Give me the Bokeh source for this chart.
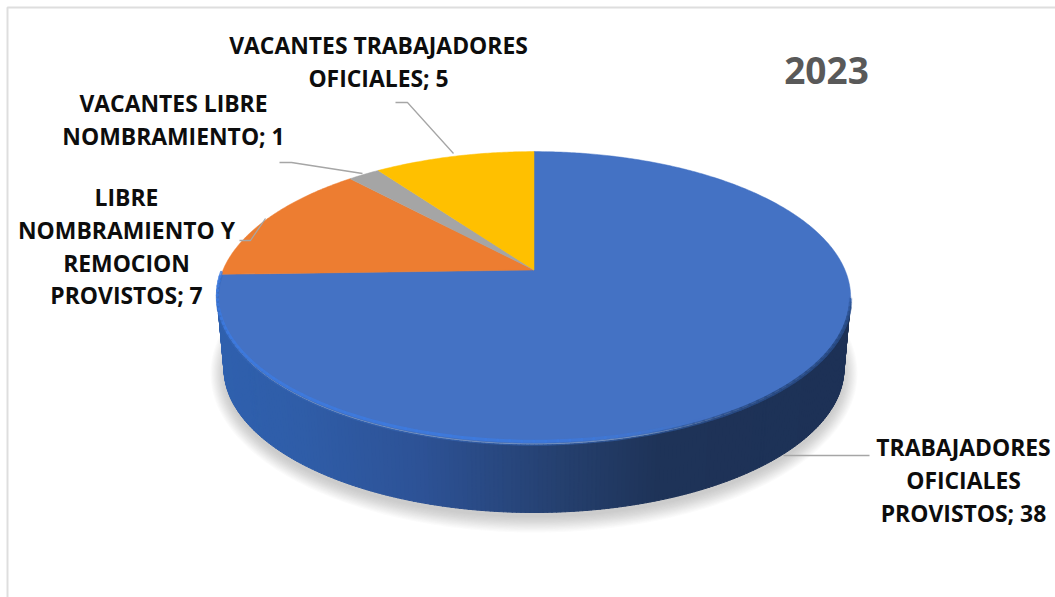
import numpy as np
from bokeh.plotting import figure
from bokeh.embed import file_html
from bokeh.resources import INLINE
from bokeh.core.properties import value
from bokeh.models import Range1d

# ---- data ----
categories = ["TRABAJADORES OFICIALES PROVISTOS", "LIBRE NOMBRAMIENTO Y REMOCION PROVISTOS",
              "VACANTES LIBRE NOMBRAMIENTO", "VACANTES TRABAJADORES OFICIALES"]
values = [38, 7, 1, 5]
colors = ["#4472c4", "#ed7d31", "#a5a5a5", "#ffc000"]
title = "2023"
label_lines = [
    ["TRABAJADORES", "OFICIALES", "PROVISTOS; 38"],
    ["LIBRE", "NOMBRAMIENTO Y", "REMOCION", "PROVISTOS; 7"],
    ["VACANTES LIBRE", "NOMBRAMIENTO; 1"],
    ["VACANTES TRABAJADORES", "OFICIALES; 5"],
]
label_xy = [(963, 447), (126, 197), (173, 103), (378, 45)]
leaders = [
    ([783, 869], [455, 455]),
    ([239, 250, 265], [240, 240, 218]),
    ([279, 291, 362], [162, 162, 173]),
    ([395, 407, 453], [102, 102, 153]),
]

# ---- geometry: page pixels ----
W, H = 1055, 597
APX, APY = 533.5, 269.5
K, A, C = 311.0, -90.0, 0.188
TCY, TRX, TRY = 298.0, 316.5, 146.5     # top-face ellipse
BCY, BRX, BRY = 368.0, 310.0, 144.0     # bottom ellipse
FONT = "Open Sans"


def project(u, v):
    d = 1 + C * v
    return APX + K * u / d, (A * v + APY) / d


def mix(c1, c2, t):
    a = np.array([int(c1[i:i + 2], 16) for i in (1, 3, 5)], float)
    b = np.array([int(c2[i:i + 2], 16) for i in (1, 3, 5)], float)
    r = a + (b - a) * t
    return "#%02x%02x%02x" % tuple(int(round(x)) for x in r)


p = figure(width=W, height=H, output_backend="svg", toolbar_location=None,
           x_range=Range1d(0, W), y_range=Range1d(H, 0),
           min_border=0, outline_line_color=None)
p.axis.visible = False
p.grid.visible = False
p.background_fill_color = "white"
p.border_fill_color = "white"

# frame
p.line([7, 7, 1055], [597, 7, 7], line_color="#dedede", line_width=2)

# soft shadow under the disc
t = np.linspace(0, 2 * np.pi, 200)
for i in range(14):
    g = 15 - i * 1.2
    p.patch(533.5 + (BRX + g * 0.9) * np.cos(t), BCY + 5 + (BRY + g) * np.sin(t),
            fill_color="#707070", fill_alpha=0.028, line_color=None)

# side wall, lower half of ellipse, in strips shaded from left to right
stops_x = [216, 300, 420, 560, 660, 850]
stops_c = ["#2f60ae", "#2f5da8", "#2d5296", "#25406f", "#1e3358", "#1d3156"]
n = 220
ts = np.linspace(np.pi, 0, n + 1)
for i in range(n):
    a, b = ts[i], ts[i + 1] - 0.002
    xs = [533.5 + TRX * np.cos(a), 533.5 + TRX * np.cos(b), 533.5 + BRX * np.cos(b), 533.5 + BRX * np.cos(a)]
    ys = [TCY + TRY * np.sin(a), TCY + TRY * np.sin(b), BCY + BRY * np.sin(b), BCY + BRY * np.sin(a)]
    xm = (xs[0] + xs[1]) / 2
    j = min(np.searchsorted(stops_x, xm), len(stops_x) - 1)
    j = max(j, 1)
    f = (xm - stops_x[j - 1]) / (stops_x[j] - stops_x[j - 1])
    col = mix(stops_c[j - 1], stops_c[j], f)
    p.patch(xs, ys, fill_color=col, line_color=col, line_width=1)

# slices, clockwise from twelve o'clock
fr = np.cumsum([0] + values) / sum(values) * 2 * np.pi
for i in range(len(values)):
    ang = np.linspace(fr[i], fr[i + 1], max(int(values[i] * 12), 12))
    x, y = project(np.sin(ang), np.cos(ang))
    ax, ay = project(0.0, 0.0)
    p.patch(np.r_[ax, x], np.r_[ay, y], fill_color=colors[i], line_color=colors[i], line_width=0.5)

# bevel along the front rim of the large slice: soft edge, highlight at left, shade at right
ang = np.linspace(fr[0], fr[1], 150)
x, y = project(np.sin(ang), np.cos(ang))
for i in range(len(ang) - 1):
    xm = (x[i] + x[i + 1]) / 2
    ym = (y[i] + y[i + 1]) / 2
    if ym <= 262 or (xm > APX and ym <= 295):
        continue
    # blurred boundary with the side wall
    p.line([x[i], x[i + 1]], [y[i] + 1, y[i + 1] + 1], line_color="#3566b6", line_width=3, line_alpha=0.55)
    if xm < 700:
        alpha = min(1.0, (700 - xm) / 160.0)
        p.line([x[i], x[i + 1]], [y[i] - 2, y[i + 1] - 2], line_color="#3d7ae0", line_width=3,
               line_alpha=0.8 * alpha, line_cap="round")
    if xm > 640:
        alpha = min(1.0, (xm - 640) / 100.0) * min(1.0, (ym - 295) / 25.0)
        p.line([x[i], x[i + 1]], [y[i] + 1, y[i + 1] + 1], line_color="#27477f", line_width=3.5,
               line_alpha=0.7 * alpha, line_cap="round")

# leader lines
for (lx, ly) in leaders:
    p.line(lx, ly, line_color="#a6a6a6", line_width=1.3)

# labels
for lines, (x0, y0) in zip(label_lines, label_xy):
    ys = [y0 + 32.8 * k for k in range(len(lines))]
    p.text([x0] * len(lines), ys, text=lines, text_font=value(FONT), text_font_style="bold",
           text_font_size="22.9px", text_color="#0d0d0d", text_align="center", text_baseline="middle")

p.text([826], [70], text=[title], text_font=value(FONT), text_font_style="bold",
       text_font_size="37px", text_color="#595959", text_align="center", text_baseline="middle")

open("out.html", "w").write(file_html(p, INLINE))
